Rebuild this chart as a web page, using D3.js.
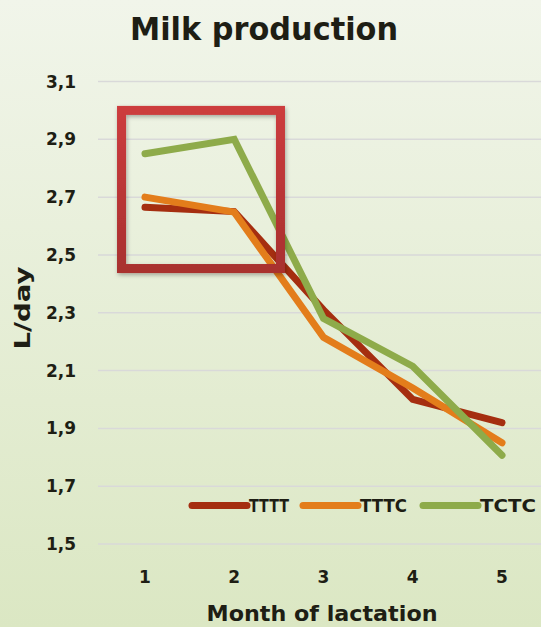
<!DOCTYPE html>
<html>
<head>
<meta charset="utf-8">
<script src="https://cdn.jsdelivr.net/npm/d3@7/dist/d3.min.js"></script>
<style>
  html, body { margin: 0; padding: 0; background: #e6eed6; }
  svg { display: block; font-family: "DejaVu Sans", Lato, sans-serif; }
</style>
</head>
<body>
<svg id="chart" width="541" height="627"></svg>
<script>
// Milk production by month of lactation, per treatment
const months = [1, 2, 3, 4, 5];
const tttt = [2.665, 2.65, 2.31, 2.00, 1.92];
const tttc = [2.70, 2.648, 2.215, 2.04, 1.85];
const tctc = [2.85, 2.90, 2.28, 2.115, 1.807];
const seriesNames = ["TTTT", "TTTC", "TCTC"];
const yTicks = [1.5, 1.7, 1.9, 2.1, 2.3, 2.5, 2.7, 2.9, 3.1];
// highlighted window around the first two months
const highlightMonths = [0.737, 2.518];
const highlightValues = [2.453, 3.0];

const colors = ["#a52e10", "#e37d1b", "#8eab4a"];
const series = [tttt, tttc, tctc];

const W = 541, H = 627;
const ink = "#1e1e14";
const svg = d3.select("#chart");

// background
const defs = svg.append("defs");
const bg = defs.append("linearGradient").attr("id", "bg")
  .attr("x1", 0).attr("y1", 0).attr("x2", 0).attr("y2", 1);
bg.append("stop").attr("offset", 0).attr("stop-color", "#f1f5ea");
bg.append("stop").attr("offset", 1).attr("stop-color", "#dbe7c3");
svg.append("rect").attr("width", W).attr("height", H).attr("fill", "url(#bg)");

const boxGrad = defs.append("linearGradient").attr("id", "boxg")
  .attr("x1", 0).attr("y1", 0).attr("x2", 0).attr("y2", 1);
boxGrad.append("stop").attr("offset", 0).attr("stop-color", "#cc3c3e");
boxGrad.append("stop").attr("offset", 1).attr("stop-color", "#a9302f");
const shadow = defs.append("filter").attr("id", "shadow")
  .attr("x", "-10%").attr("y", "-10%").attr("width", "130%").attr("height", "130%");
shadow.append("feDropShadow").attr("dx", 1).attr("dy", 2).attr("stdDeviation", 2)
  .attr("flood-color", "#000").attr("flood-opacity", 0.3);

const x = d3.scaleLinear().domain([1, 5]).range([145, 502]);
const y = d3.scaleLinear().domain([1.5, 3.1]).range([544, 81.5]);

// gridlines
svg.append("g").selectAll("line").data(yTicks).join("line")
  .attr("x1", 98).attr("x2", W)
  .attr("y1", d => y(d)).attr("y2", d => y(d))
  .attr("stroke", "#d9d9d9").attr("stroke-width", 1.5);

const fmt = d => d3.format(".1f")(d).replace(".", ",");

// y axis labels
svg.append("g").selectAll("text").data(yTicks).join("text")
  .attr("x", 76).attr("y", d => y(d)).attr("dy", "0.36em")
  .attr("text-anchor", "end")
  .attr("font-size", 17).attr("font-weight", 700).attr("fill", ink)
  .text(fmt);

// x axis labels
svg.append("g").selectAll("text").data(months).join("text")
  .attr("x", d => x(d)).attr("y", 583)
  .attr("text-anchor", "middle")
  .attr("font-size", 17).attr("font-weight", 700).attr("fill", ink)
  .text(d => d);

// lines
const line = d3.line().x((d, i) => x(months[i])).y(d => y(d));
svg.append("g").selectAll("path").data(series).join("path")
  .attr("d", d => line(d))
  .attr("fill", "none")
  .attr("stroke", (d, i) => colors[i])
  .attr("stroke-width", 7)
  .attr("stroke-linecap", "round")
  .attr("stroke-linejoin", "miter");

// highlight box
const bx0 = x(highlightMonths[0]), bx1 = x(highlightMonths[1]);
const by0 = y(highlightValues[1]), by1 = y(highlightValues[0]);
svg.append("rect")
  .attr("x", bx0).attr("y", by0)
  .attr("width", bx1 - bx0).attr("height", by1 - by0)
  .attr("fill", "none")
  .attr("stroke", "url(#boxg)").attr("stroke-width", 9)
  .attr("filter", "url(#shadow)");

// legend
const legend = svg.append("g");
const legendX = [192, 303, 423];
const legendW = [40, 47, 56];
seriesNames.forEach((name, i) => {
  legend.append("line")
    .attr("x1", legendX[i]).attr("x2", legendX[i] + 55)
    .attr("y1", 505.5).attr("y2", 505.5)
    .attr("stroke", colors[i]).attr("stroke-width", 7)
    .attr("stroke-linecap", "round");
  legend.append("text")
    .attr("x", legendX[i] + 57).attr("y", 505.5).attr("dy", "0.36em")
    .attr("font-size", 17).attr("font-weight", 700).attr("fill", ink)
    .attr("textLength", legendW[i]).attr("lengthAdjust", "spacingAndGlyphs")
    .text(name);
});

// title
svg.append("text")
  .attr("x", 264).attr("y", 40)
  .attr("text-anchor", "middle")
  .attr("font-size", 32).attr("font-weight", 700).attr("fill", ink)
  .attr("textLength", 268).attr("lengthAdjust", "spacingAndGlyphs")
  .text("Milk production");

// axis titles
svg.append("text")
  .attr("x", 322).attr("y", 621)
  .attr("text-anchor", "middle")
  .attr("font-size", 21).attr("font-weight", 700).attr("fill", ink)
  .attr("textLength", 231).attr("lengthAdjust", "spacingAndGlyphs")
  .text("Month of lactation");

svg.append("text")
  .attr("transform", "translate(30,308) rotate(-90)")
  .attr("text-anchor", "middle")
  .attr("font-size", 21).attr("font-weight", 700).attr("fill", ink)
  .attr("textLength", 83).attr("lengthAdjust", "spacingAndGlyphs")
  .text("L/day");
</script>
</body>
</html>
